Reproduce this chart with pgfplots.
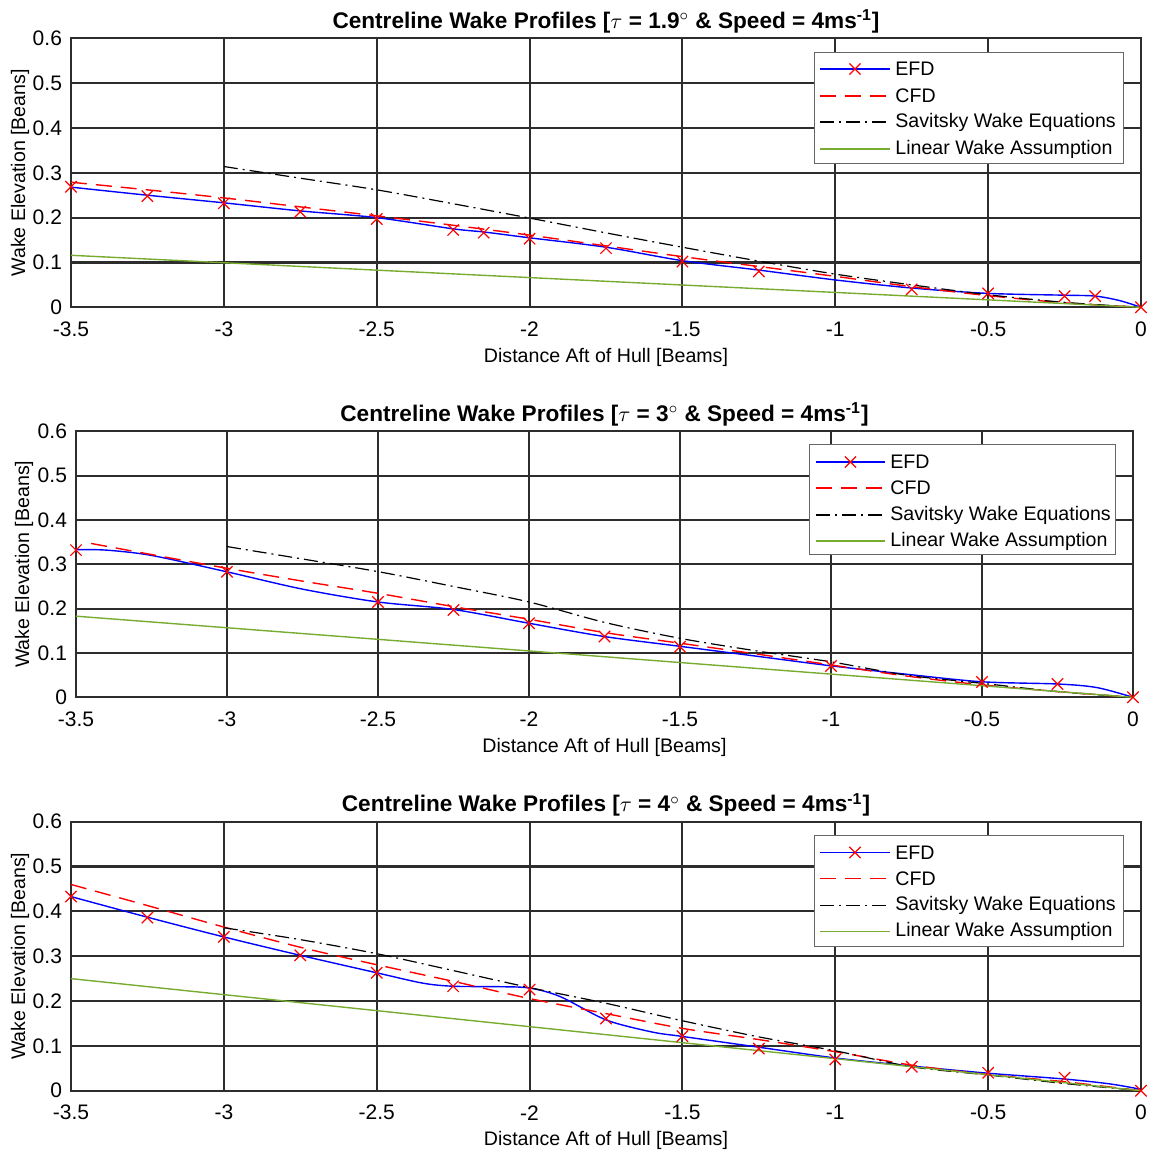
\documentclass[border=0pt]{standalone}
\usepackage{pgfplots}
\pgfplotsset{compat=1.18}
\usepackage{fontspec}
\setmainfont{Liberation Sans}
\definecolor{gridc}{RGB}{45,45,45}
\definecolor{lingreen}{RGB}{119,172,48}
\pgfplotsset{
  wake/.style={
    scale only axis,
    width=535pt, height=134.5pt,
    xmin=-3.5, xmax=0, ymin=0, ymax=0.6,
    xtick={-3.5,-3,-2.5,-2,-1.5,-1,-0.5,0},
    xticklabels={-3.5,-3,-2.5,-2,-1.5,-1,-0.5,0},
    ytick={0,0.1,0.2,0.3,0.4,0.5,0.6},
    yticklabels={0,0.1,0.2,0.3,0.4,0.5,0.6},
    grid=major,
    major grid style={draw=gridc, line width=1.05pt},
    axis line style={draw=gridc, line width=1.05pt},
    major tick length=0pt,
    tick label style={font=\fontsize{10.5}{12}\selectfont},
    xticklabel style={anchor=center, yshift=-11pt},
    yticklabel style={anchor=east, xshift=-1pt},
    xlabel={Distance Aft of Hull [Beams]},
    ylabel={Wake Elevation [Beans]},
    label style={font=\fontsize{9.8}{12}\selectfont},
    xlabel style={at={(axis description cs:0.5,-0.186)}, anchor=center},
    ylabel style={at={(axis description cs:-0.0477,0.5)}, anchor=center},
    title style={font=\bfseries\fontsize{11.3}{13}\selectfont, at={(axis description cs:0.5,1)}, anchor=south, yshift=-7pt},
  },
  efd/.style={draw=blue, line width=0.7pt, smooth, tension=0.5, no marks},
  efdm/.style={only marks, mark=x, mark size=4pt, draw=red, mark options={draw=red, line width=0.6pt}},
  cfd/.style={draw=red, line width=0.7pt, dash pattern=on 8pt off 4.5pt, smooth, no marks},
  sav/.style={draw=black, line width=0.6pt, dash pattern=on 7pt off 2.5pt on 1pt off 2.5pt, smooth, no marks},
  lin/.style={draw=lingreen, line width=0.7pt, no marks},
}
% legend drawn inside the axis, in axis-relative coordinates
\newcommand{\wakelegend}[4]{% row y positions (rel axis cs)
  \draw[draw=black!60, fill=white, line width=0.5pt] (rel axis cs:0.6944,0.949) rectangle (rel axis cs:0.9832,0.535);
  \draw[draw=blue, line width=0.75pt] (rel axis cs:0.700,#1) -- (rel axis cs:0.7654,#1);
  \draw[draw=red, line width=0.6pt] (rel axis cs:0.7327,#1) ++(-2.8pt,-2.8pt) -- ++(5.6pt,5.6pt) ++(-5.6pt,0pt) -- ++(5.6pt,-5.6pt);
  \draw[draw=red, line width=0.75pt, dash pattern=on 8pt off 4.5pt] (rel axis cs:0.700,#2) -- (rel axis cs:0.7654,#2);
  \draw[draw=black, line width=0.6pt, dash pattern=on 7pt off 2.5pt on 1pt off 2.5pt] (rel axis cs:0.700,#3) -- (rel axis cs:0.7654,#3);
  \draw[draw=lingreen, line width=0.75pt] (rel axis cs:0.700,#4) -- (rel axis cs:0.7654,#4);
  \begin{scope}[every node/.style={anchor=west, inner sep=0pt, font=\fontsize{9.8}{12}\selectfont}]
  \node at (rel axis cs:0.7701,#1) {EFD};
  \node at (rel axis cs:0.7701,#2) {CFD};
  \node at (rel axis cs:0.7701,#3) {Savitsky Wake Equations};
  \node at (rel axis cs:0.7701,#4) {Linear Wake Assumption};
  \end{scope}
}
\begin{document}
\begin{tikzpicture}
\path[use as bounding box] (0,0) rectangle (576.5pt,576.5pt);
% ---------- Panel 1 ----------
\begin{axis}[wake, at={(35.5pt,422.85pt)}, anchor=south west,
  title={Centreline Wake Profiles [$\tau$ = 1.9$^{\circ}$ \& Speed = 4ms\textsuperscript{-1}]}]
\addplot[efd] coordinates {(-3.5,0.268) (-3.25,0.250) (-3,0.233) (-2.75,0.215) (-2.5,0.200) (-2.25,0.175) (-2.15,0.168) (-2,0.155) (-1.75,0.134) (-1.5,0.104) (-1.25,0.083) (-1,0.061) (-0.75,0.043) (-0.5,0.031) (-0.25,0.027) (-0.15,0.025) (-0.07,0.015) (0,0)};
\addplot[cfd] coordinates {(-3.5,0.279) (-3.25,0.262) (-3,0.244) (-2.75,0.224) (-2.5,0.204) (-2.25,0.183) (-2,0.161) (-1.75,0.137) (-1.5,0.113) (-1.25,0.091) (-1,0.069) (-0.75,0.046) (-0.5,0.026) (-0.25,0.010) (0,0)};
\addplot[sav] coordinates {(-3,0.314) (-2.75,0.288) (-2.5,0.262) (-2.25,0.231) (-2,0.199) (-1.75,0.166) (-1.5,0.134) (-1.25,0.103) (-1,0.074) (-0.75,0.050) (-0.5,0.028) (-0.25,0.011) (0,0)};
\addplot[lin] coordinates {(-3.5,0.116) (0,0)};
\addplot[efdm] coordinates {(-3.5,0.269) (-3.25,0.248) (-3,0.232) (-2.75,0.213) (-2.5,0.197) (-2.25,0.1725) (-2.15,0.1665) (-2,0.153) (-1.75,0.132) (-1.5,0.102) (-1.25,0.080) (-0.75,0.040) (-0.5,0.031) (-0.25,0.025) (-0.15,0.025) (0,0)};
\wakelegend{0.886}{0.7855}{0.6889}{0.5885}
\end{axis}
% ---------- Panel 2 ----------
\begin{axis}[wake, width=528.5pt, height=133pt, at={(38pt,227.85pt)}, anchor=south west,
  xlabel style={at={(axis description cs:0.5,-0.19)}},
  ylabel style={at={(axis description cs:-0.0492,0.5)}},
  title={Centreline Wake Profiles [$\tau$ = 3$^{\circ}$ \& Speed = 4ms\textsuperscript{-1}]}]
\addplot[efd] coordinates {(-3.5,0.333) (-3.4,0.332) (-3.25,0.320) (-3,0.283) (-2.75,0.244) (-2.5,0.215) (-2.25,0.198) (-2,0.167) (-1.75,0.137) (-1.5,0.115) (-1.25,0.093) (-1,0.071) (-0.75,0.052) (-0.5,0.035) (-0.25,0.030) (-0.12,0.022) (0,0)};
\addplot[cfd] coordinates {(-3.45,0.347) (-3.25,0.322) (-3,0.291) (-2.75,0.262) (-2.5,0.2346) (-2.25,0.2045) (-2,0.176) (-1.75,0.146) (-1.5,0.122) (-1.25,0.098) (-1,0.073) (-0.75,0.048) (-0.5,0.028) (-0.25,0.013) (0,0)};
\addplot[sav] coordinates {(-3,0.340) (-2.75,0.312) (-2.5,0.2835) (-2.25,0.250) (-2,0.215) (-1.75,0.169) (-1.5,0.133) (-1.25,0.105) (-1,0.080) (-0.75,0.050) (-0.5,0.0316) (-0.25,0.0128) (0,0)};
\addplot[lin] coordinates {(-3.5,0.183) (0,0)};
\addplot[efdm] coordinates {(-3.5,0.332) (-3,0.283) (-2.5,0.215) (-2.25,0.197) (-2,0.167) (-1.75,0.137) (-1.5,0.114) (-1,0.0707) (-0.5,0.0346) (-0.25,0.030) (0,0)};
\wakelegend{0.8846}{0.7868}{0.6853}{0.5876}
\end{axis}
% ---------- Panel 3 ----------
\begin{axis}[wake, at={(35.5pt,31.15pt)}, anchor=south west,
  title={Centreline Wake Profiles [$\tau$ = 4$^{\circ}$ \& Speed = 4ms\textsuperscript{-1}]}]
\addplot[efd] coordinates {(-3.5,0.433) (-3.25,0.387) (-3,0.343) (-2.75,0.302) (-2.5,0.263) (-2.35,0.240) (-2.25,0.233) (-2.1,0.232) (-2,0.229) (-1.9,0.210) (-1.75,0.158) (-1.6,0.131) (-1.5,0.121) (-1.25,0.097) (-1,0.073) (-0.75,0.055) (-0.5,0.039) (-0.25,0.026) (-0.1,0.015) (0,0.003)};
\addplot[cfd] coordinates {(-3.5,0.460) (-3.25,0.413) (-3,0.365) (-2.75,0.320) (-2.5,0.281) (-2.25,0.244) (-2,0.2055) (-1.75,0.172) (-1.5,0.139) (-1.25,0.114) (-1,0.087) (-0.75,0.057) (-0.5,0.036) (-0.25,0.020) (0,0)};
\addplot[sav] coordinates {(-3,0.3635) (-2.75,0.337) (-2.5,0.3056) (-2.25,0.268) (-2,0.230) (-1.75,0.195) (-1.5,0.156) (-1.25,0.120) (-1,0.089) (-0.75,0.0534) (-0.5,0.035) (-0.25,0.016) (0,0)};
\addplot[lin] coordinates {(-3.5,0.250) (0,0)};
\addplot[efdm] coordinates {(-3.5,0.433) (-3.25,0.386) (-3,0.343) (-2.75,0.302) (-2.5,0.263) (-2.25,0.233) (-2,0.2255) (-1.75,0.161) (-1.5,0.1217) (-1.25,0.094) (-1,0.0697) (-0.75,0.0534) (-0.5,0.040) (-0.25,0.029) (0,0)};
\wakelegend{0.8858}{0.7894}{0.6893}{0.5924}
\end{axis}
\end{tikzpicture}
\end{document}
